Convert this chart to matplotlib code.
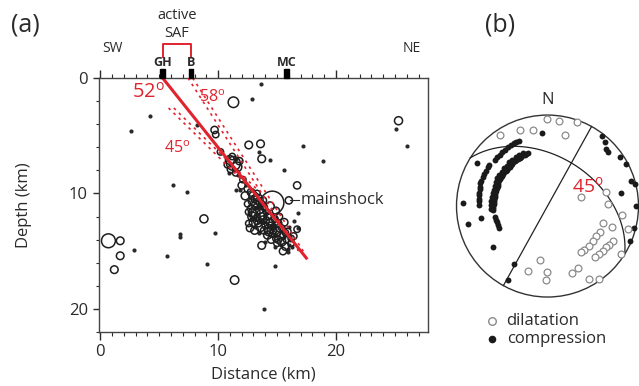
import numpy as np
import matplotlib.pyplot as plt
from matplotlib.patches import Rectangle, Circle
from matplotlib.ticker import MultipleLocator

plt.rcParams['font.family'] = ['Open Sans', 'DejaVu Sans']

RED = '#e0242f'
INK = '#2a2a2a'

# hypocentres along the profile: distance (km), depth (km), magnitude
ev_x = [13.6, 12.9, 4.2, 2.6, 8.2, 17.2, 18.9, 14.4, 15.6, 13.5, 6.2, 7.4, 11.5, 11.9,
        9.7, 6.8, 6.8, 2.9, 5.7, 9.1, 14.8, 13.9, 16.8, 16.8, 25.1, 26.0, 15.9, 16.3,
        0.7, 1.7, 1.7, 1.2, 11.4, 8.8, 11.3, 25.3, 12.6, 13.6, 13.7, 16.7, 16.0, 13.1,
        13.7, 15.5, 9.7, 9.8, 10.2,
        11.3, 11.0, 11.6, 11.1, 10.8, 11.8, 11.5, 10.9, 11.7, 11.2, 11.5,
        12.1, 12.4, 12.5, 12.8, 12.0, 12.3,
        13.0, 13.3, 12.9, 13.4, 13.2, 13.7, 12.8, 13.1, 13.5, 13.9, 12.9, 13.3, 13.7, 14.1,
        13.0, 13.4, 13.8, 14.2, 13.6, 14.0, 14.4, 14.8, 13.9, 14.3, 14.7, 15.1, 14.2, 14.6,
        15.0, 15.4, 14.5, 14.9, 15.3, 15.7, 15.0, 15.4, 15.8, 15.7, 16.2, 16.4, 16.0, 16.4,
        16.7, 12.6, 12.7, 12.5, 13.5, 14.0, 14.9, 15.2, 15.6, 14.4, 13.2, 13.6, 14.8, 15.9,
        16.1, 12.6, 13.8,
        13.1, 13.5, 12.9, 13.3, 13.8, 14.1, 14.5, 14.3, 14.7, 15.2, 15.5, 15.1, 15.9, 16.2,
        13.4, 12.8, 14.0, 14.6, 15.3, 13.1, 13.9, 14.8, 15.6, 16.0, 12.7, 13.6]
ev_z = [0.5, 1.8, 3.3, 4.6, 4.1, 5.9, 7.2, 7.1, 8.0, 6.4, 9.3, 9.9, 9.7, 9.7,
        13.4, 13.5, 13.8, 14.9, 15.4, 16.1, 16.3, 20.0, 11.7, 13.0, 4.4, 5.9, 14.8, 14.6,
        14.1, 14.1, 15.4, 16.6, 17.5, 12.2, 2.1, 3.7, 5.8, 5.7, 7.0, 9.3, 10.6, 13.2,
        14.5, 15.0, 4.5, 4.9, 6.4,
        7.4, 7.1, 7.7, 7.9, 7.5, 7.2, 8.2, 8.2, 8.4, 6.8, 7.0,
        8.8, 9.3, 9.6, 9.9, 9.3, 10.2,
        10.2, 10.0, 10.7, 10.5, 11.0, 10.9, 11.3, 11.6, 11.4, 11.2, 12.0, 12.1, 11.8, 11.6,
        12.5, 12.6, 12.3, 12.0, 12.9, 12.8, 12.5, 12.2, 13.2, 13.1, 12.9, 12.6, 13.6, 13.5,
        13.3, 13.0, 14.0, 13.9, 13.7, 13.4, 14.3, 14.2, 14.0, 14.6, 14.3, 13.7, 12.9, 12.4,
        13.1, 12.6, 13.0, 10.9, 13.4, 14.2, 11.5, 12.0, 12.5, 11.1, 11.3, 12.3, 14.6, 15.1,
        13.8, 11.6, 10.6,
        10.5, 10.8, 11.7, 12.4, 12.0, 12.3, 12.8, 13.3, 13.2, 13.0, 13.6, 14.0, 13.3, 13.9,
        11.2, 12.2, 11.9, 12.7, 14.5, 12.9, 12.5, 13.6, 13.8, 14.5, 11.9, 11.1]
ev_mag = [0.5] * 28 + \
         [2.8, 1.3, 1.3, 1.3, 1.5, 1.4, 2.0, 1.4, 1.3, 1.3, 1.3, 1.2, 1.2, 1.3,
          1.3, 1.2, 1.2, 1.0, 1.0,
          2.8, 1.6, 1.8, 1.3, 1.1, 1.2, 1.1, 0.5, 0.5, 1.0, 0.5,
          1.0, 0.5, 1.1, 1.3, 1.2, 1.4,
          1.5, 1.0, 1.3, 1.8, 1.5, 1.0, 1.2, 2.0, 1.4, 1.1, 1.6, 1.2, 1.8, 1.0,
          1.5, 1.1, 1.4, 1.2, 1.6, 1.0, 1.3, 1.1, 1.2, 1.7, 1.0, 1.2, 1.4, 1.1,
          1.5, 1.0, 1.2, 1.0, 1.3, 1.0, 1.1, 1.4, 1.0, 1.2, 1.0, 1.1, 0.5, 0.5,
          1.0, 1.0, 1.2, 1.0, 0.5, 0.5, 1.2, 1.0, 1.3, 1.5, 0.5, 0.5, 0.5, 0.5,
          0.5, 1.1, 1.2,
          1.2, 1.0, 1.4, 1.1, 1.3, 1.0, 1.2, 1.5, 1.1, 1.3, 1.0, 1.2, 1.1, 1.0,
          0.5, 0.5, 0.5, 0.5, 0.5, 0.5, 0.5, 0.5, 0.5, 0.5, 0.5, 0.5]

# mainshock
main_x, main_z, main_mag = 14.6, 10.8, 5.0

# surface sites on the profile
sites = ['GH', 'B', 'MC']
site_x = [5.3, 7.7, 15.8]

# fault plane models: surface trace (km), dip (deg), depth range (km)
fault_x0, fault_dip, fault_zmax = 5.3, 52, 15.7
alt_x0 = [[7.45, 7.85], [3.2, 3.65]]
alt_dip = [58, 45]
alt_z = [[0.0, 15.0], [2.6, 9.6]]

# first-motion polarities (lower hemisphere, equal area): azimuth (deg), radius
comp_az = [246, 249, 252, 255, 258, 266, 268, 270, 272, 274, 276, 278, 280, 282, 284,
           286, 288, 290, 292, 294, 296, 298, 300, 302, 304, 306, 308, 310, 312, 314,
           316, 318, 320, 322, 324, 326, 328, 330, 332, 334, 336, 338, 340,
           267, 271, 275, 279, 283, 287, 291, 295, 299, 303, 307, 311, 315, 319, 323,
           327, 331, 335,
           271, 274, 276, 279, 281, 284, 286, 289, 291, 294, 297, 300, 303, 305, 311,
           314, 317, 320, 323, 326, 329, 332, 334, 336,
           356, 272, 257, 260, 233, 210, 208, 301, 38, 42, 46, 48, 56, 62, 73, 76,
           80, 90, 104, 113]
comp_r = [0.58, 0.58, 0.58, 0.59, 0.59, 0.60, 0.60, 0.60, 0.59, 0.59, 0.59, 0.59, 0.59,
          0.59, 0.59, 0.59, 0.59, 0.59, 0.59, 0.60, 0.60, 0.60, 0.60, 0.60, 0.60, 0.60,
          0.60, 0.60, 0.60, 0.60, 0.60, 0.60, 0.60, 0.61, 0.61, 0.61, 0.61, 0.61, 0.61,
          0.62, 0.62, 0.62, 0.62,
          0.62, 0.62, 0.62, 0.62, 0.62, 0.62, 0.62, 0.63, 0.63, 0.63, 0.63, 0.63, 0.63,
          0.64, 0.64, 0.64, 0.64, 0.64,
          0.75, 0.75, 0.76, 0.76, 0.77, 0.77, 0.77, 0.78, 0.78, 0.78, 0.78, 0.78, 0.78,
          0.78, 0.77, 0.77, 0.77, 0.77, 0.77, 0.78, 0.78, 0.78, 0.78, 0.78,
          0.80, 0.93, 0.90, 0.74, 0.75, 0.73, 0.92, 0.91, 0.98, 0.94, 0.90, 0.89, 0.96,
          0.98, 0.96, 0.99, 0.82, 0.97, 0.98, 0.98]
dil_az = [326, 340, 349, 0, 8, 19, 14, 75, 76, 88, 97, 107, 108, 106, 116, 122, 128,
          134, 140, 144, 118, 122, 125, 129, 133, 137, 123, 188, 197, 180, 181, 160,
          154, 150, 145]
dil_r = [0.94, 0.89, 0.85, 0.96, 0.94, 0.98, 0.80, 0.38, 0.66, 0.66, 0.82, 0.64, 0.75,
         0.92, 0.64, 0.63, 0.63, 0.63, 0.63, 0.63, 0.81, 0.80, 0.79, 0.78, 0.78, 0.77,
         0.96, 0.60, 0.75, 0.73, 0.81, 0.78, 0.76, 0.92, 0.98]

# nodal planes: dip direction (deg), dip (deg)
plane_dipdir = [299, 32]
plane_dip = [90, 45]


def mag_size(m):
    return (1.6 + 3.0 * m) ** 2


fig = plt.figure(figsize=(6.39, 3.86), dpi=100)

# ---- (a) cross section ----
ax = fig.add_axes([0.1549, 0.1399, 0.5149, 0.658])
ev_x = np.array(ev_x)
ev_z = np.array(ev_z)
ev_mag = np.array(ev_mag)
small = ev_mag < 1
ax.scatter(ev_x[small], ev_z[small], s=9, color='#2a2a2a', lw=0, zorder=3)
ax.scatter(ev_x[~small], ev_z[~small], s=mag_size(ev_mag[~small]), facecolors='none',
           edgecolors='#1e1e1e', linewidths=1.1, zorder=3)
ax.scatter([main_x], [main_z], s=mag_size(main_mag), facecolors='none',
           edgecolors='#1e1e1e', linewidths=1.1, zorder=3)

x_end = fault_x0 + fault_zmax / np.tan(np.radians(fault_dip))
ax.plot([fault_x0, x_end], [0, fault_zmax], color=RED, lw=2.2, zorder=4,
        solid_capstyle='butt')
for x0s, dip, (z0, z1) in zip(alt_x0, alt_dip, alt_z):
    for x0 in x0s:
        t = np.tan(np.radians(dip))
        ax.plot([x0 + z0 / t, x0 + z1 / t], [z0, z1], color=RED, lw=1.2,
                ls=(0, (1.6, 2.6)), zorder=4)

ax.text(2.7, 1.3, r'52$^{\mathregular{o}}$', color=RED, fontsize=14.5, va='center')
ax.text(8.4, 1.7, r'58$^{\mathregular{o}}$', color=RED, fontsize=11.5, va='center')
ax.text(5.4, 6.1, r'45$^{\mathregular{o}}$', color=RED, fontsize=11.5, va='center')

ax.plot([16.1, 16.9], [10.55, 10.55], color=INK, lw=0.8)
ax.text(17.0, 10.55, 'mainshock', fontsize=12, color=INK, va='center')

ax.set_xlim(-0.1, 27.8)
ax.set_ylim(22, 0)
ax.xaxis.set_major_locator(MultipleLocator(10))
ax.xaxis.set_minor_locator(MultipleLocator(1))
ax.yaxis.set_major_locator(MultipleLocator(10))
ax.yaxis.set_minor_locator(MultipleLocator(2))
ax.tick_params(axis='x', which='both', direction='out', top=True, labeltop=False,
               labelsize=12, colors=INK, pad=3)
ax.tick_params(axis='x', which='major', length=6, width=1)
ax.tick_params(axis='x', which='minor', length=3, width=0.8)
ax.tick_params(axis='y', which='both', direction='out', right=False,
               labelsize=12, colors=INK, pad=4)
ax.tick_params(axis='y', which='major', length=4, width=1)
ax.tick_params(axis='y', which='minor', length=2, width=0.8)
for s in ax.spines.values():
    s.set_color('#444444')
    s.set_linewidth(1.0)
ax.set_xlabel('Distance (km)', fontsize=12, color=INK)
ax.set_ylabel('Depth (km)', fontsize=12, color=INK)
ax.xaxis.set_label_coords(0.5, -0.135)
ax.yaxis.set_label_coords(-0.205, 0.5)

trans = ax.get_xaxis_transform()
for name, x in zip(sites, site_x):
    ax.add_patch(Rectangle((x - 0.2, 1.0), 0.4, 0.035, transform=trans,
                           color='black', clip_on=False, zorder=5))
    ax.text(x, 1.063, name, transform=trans, ha='center', va='center',
            fontsize=9, fontweight='bold', color=INK)
ax.plot([site_x[0], site_x[0], site_x[1], site_x[1]], [1.083, 1.134, 1.134, 1.083],
        transform=trans, color=RED, lw=1.4, clip_on=False)
ax.text((site_x[0] + site_x[1]) / 2, 1.175, 'SAF', transform=trans, ha='center',
        va='center', fontsize=10.5, color=INK)
ax.text((site_x[0] + site_x[1]) / 2, 1.245, 'active', transform=trans, ha='center',
        va='center', fontsize=10.5, color=INK)
ax.text(1.0, 1.118, 'SW', transform=trans, ha='center', va='center', fontsize=10,
        color=INK)
ax.text(26.4, 1.118, 'NE', transform=trans, ha='center', va='center', fontsize=10,
        color=INK)

fig.text(25 / 639, 1 - 25 / 386, '(a)', fontsize=18, ha='center', va='center', color=INK)
fig.text(500 / 639, 1 - 25 / 386, '(b)', fontsize=18, ha='center', va='center', color=INK)

# ---- (b) focal mechanism ----
bx = fig.add_axes([0.7073, 0.2187, 0.299, 0.495])
bx.set_xlim(-1.05, 1.05)
bx.set_ylim(-1.05, 1.05)
bx.set_aspect('equal')
bx.axis('off')
bx.add_patch(Circle((0, 0), 1.0, fill=False, ec='#333333', lw=1.0, clip_on=False))

for dd, dip in zip(plane_dipdir, plane_dip):
    strike = np.radians(dd - 90)
    dd_r, dip_r = np.radians(dd), np.radians(dip)
    s_vec = np.array([np.sin(strike), np.cos(strike), 0.0])
    d_vec = np.array([np.cos(dip_r) * np.sin(dd_r), np.cos(dip_r) * np.cos(dd_r),
                      np.sin(dip_r)])
    t = np.radians(np.linspace(0, 180, 181))
    v = np.outer(np.cos(t), s_vec) + np.outer(np.sin(t), d_vec)
    plunge = np.arcsin(np.clip(v[:, 2], -1, 1))
    trend = np.arctan2(v[:, 0], v[:, 1])
    r = np.sqrt(2) * np.sin((np.pi / 2 - plunge) / 2)
    bx.plot(r * np.sin(trend), r * np.cos(trend), color='#222222', lw=0.9)

ca = np.radians(comp_az)
bx.scatter(np.array(comp_r) * np.sin(ca), np.array(comp_r) * np.cos(ca), s=18,
           color='#1a1a1a', lw=0, zorder=3, clip_on=False)
da = np.radians(dil_az)
bx.scatter(np.array(dil_r) * np.sin(da), np.array(dil_r) * np.cos(da), s=24,
           facecolors='white', edgecolors='#8a8a8a', linewidths=0.9, zorder=3,
           clip_on=False)

bx.text(0, 1.165, 'N', ha='center', va='center', fontsize=12, color=INK)
bx.text(0.27, 0.21, r'45$^{\mathregular{o}}$', color=RED, fontsize=14, va='center')

bx.scatter([-0.61], [-1.264], s=30, facecolors='white', edgecolors='#8a8a8a',
           linewidths=1.0, clip_on=False)
bx.scatter([-0.61], [-1.46], s=30, color='#1a1a1a', lw=0, clip_on=False)
bx.text(-0.46, -1.264, 'dilatation', fontsize=12, va='center', color=INK)
bx.text(-0.44, -1.46, 'compression', fontsize=12, va='center', color=INK)

fig.savefig('out.png', dpi=100)
